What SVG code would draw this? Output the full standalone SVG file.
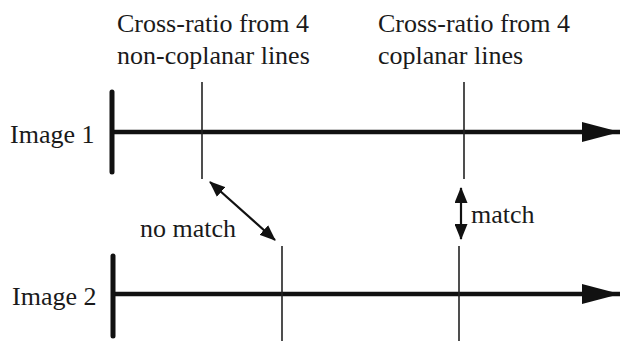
<svg xmlns="http://www.w3.org/2000/svg" width="620" height="341" viewBox="0 0 620 341" font-family="'Liberation Serif', 'Times New Roman', 'DejaVu Serif', serif">
<defs>
<style>
text{font-family:'Liberation Serif','Times New Roman','DejaVu Serif',serif;font-size:26px;fill:#1a1a1a}
.axis{stroke:#111;stroke-width:4.5;fill:none}
.bar{stroke:#111;stroke-width:5;stroke-linecap:round;fill:none}
.tick{stroke:#222;stroke-width:1.6;fill:none}
.dbl{stroke:#111;stroke-width:2.2;fill:none}
</style>
<marker id="big" viewBox="0 0 38 20" refX="38" refY="10" markerWidth="38" markerHeight="20" markerUnits="userSpaceOnUse" orient="auto">
<path d="M0,0 L38,10 L0,20 Z" fill="#111"/>
</marker>
<marker id="sm" viewBox="0 0 16 13" refX="15" refY="6.5" markerWidth="16" markerHeight="13" markerUnits="userSpaceOnUse" orient="auto-start-reverse">
<path d="M0,0 L16,6.5 L0,13 Z" fill="#111"/>
</marker>
</defs>
<rect width="620" height="341" fill="#fff"/>
<g id="labels">
<text x="117" y="32">Cross-ratio from 4</text>
<text x="117" y="64">non-coplanar lines</text>
<text x="378" y="32">Cross-ratio from 4</text>
<text x="378" y="64">coplanar lines</text>
</g>
<g id="image1">
<line class="axis" x1="112" y1="132" x2="620" y2="132" marker-end="url(#big)"/>
<line class="bar" x1="112" y1="92" x2="112" y2="172"/>
<text x="10" y="143">Image 1</text>
</g>
<g id="image2">
<line class="axis" x1="113" y1="294" x2="620" y2="294" marker-end="url(#big)"/>
<line class="bar" x1="113" y1="256" x2="113" y2="336"/>
<text x="12" y="305">Image 2</text>
</g>
<g id="connectors">
<line class="tick" x1="202" y1="82" x2="202" y2="179"/>
<line class="tick" x1="464" y1="82" x2="464" y2="179"/>
<line class="tick" x1="282" y1="246" x2="282" y2="341"/>
<line class="tick" x1="459" y1="246" x2="459" y2="341"/>
<line class="dbl" x1="210" y1="182" x2="275" y2="240" marker-start="url(#sm)" marker-end="url(#sm)"/>
<line class="dbl" x1="461" y1="188" x2="461" y2="239" marker-start="url(#sm)" marker-end="url(#sm)"/>
</g>
<g id="notes">
<text x="140" y="237">no match</text>
<text x="471" y="223">match</text>
</g>
</svg>
